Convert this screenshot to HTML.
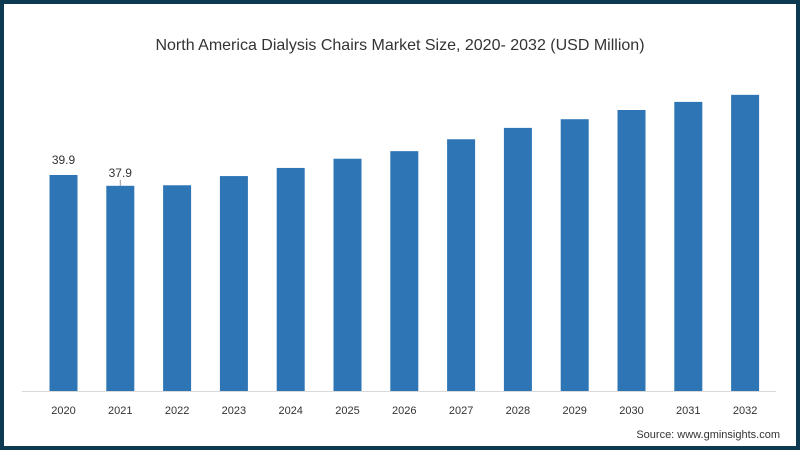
<!DOCTYPE html>
<html><head><meta charset="utf-8"><style>
html,body{margin:0;padding:0;background:#fff}
#wrap{position:relative;width:800px;height:450px;box-sizing:border-box;border:4px solid #0d3a50;background:#fff;overflow:hidden}
svg{position:absolute;left:-4px;top:-4px}
text{font-family:"Liberation Sans",sans-serif}
</style></head><body>
<div id="wrap">
<svg id="chart" width="800" height="450">
<text x="400" y="50" text-anchor="middle" font-size="16" fill="#333">North America Dialysis Chairs Market Size, 2020- 2032 (USD Million)</text>
<line x1="22" y1="391.5" x2="776" y2="391.5" stroke="#d9d9d9" stroke-width="1"/>
<text x="780" y="438" text-anchor="end" font-size="11" fill="#333">Source: www.gminsights.com</text>
</svg>
</div>
<script>
const categories=["2020","2021","2022","2023","2024","2025","2026","2027","2028","2029","2030","2031","2032"];
const values=[39.9,37.9,38.0,39.7,41.2,42.9,44.3,46.5,48.6,50.2,51.9,53.4,54.7];
const labels=["39.9","37.9","","","","","","","","","","",""];
const svg=document.getElementById('chart');
const NS="http://www.w3.org/2000/svg";
const baseY=391, pxPer=5.414, x0=63.5, step=56.8, bw=28;
const xs=i=>x0+i*step;
const ys=v=>baseY-v*pxPer;
categories.forEach((c,i)=>{
  const r=document.createElementNS(NS,'rect');
  r.setAttribute('x',xs(i)-bw/2);r.setAttribute('y',ys(values[i]));
  r.setAttribute('width',bw);r.setAttribute('height',baseY-ys(values[i]));
  r.setAttribute('fill','#2e75b6');
  
  
  svg.appendChild(r);
  const t=document.createElementNS(NS,'text');
  t.setAttribute('x',xs(i));t.setAttribute('y',414);t.setAttribute('text-anchor','middle');
  t.setAttribute('font-size','11');t.setAttribute('fill','#333');t.textContent=c;
  
  
  svg.appendChild(t);
  if(labels[i]){
    const l=document.createElementNS(NS,'text');
    l.setAttribute('x',xs(i));l.setAttribute('y',ys(values[i])-(i==1?9:11));l.setAttribute('text-anchor','middle');
    l.setAttribute('font-size','12');l.setAttribute('fill','#333');l.textContent=labels[i];
    
    
    svg.appendChild(l);
    if(i==1){
      const ln=document.createElementNS(NS,'line');
      ln.setAttribute('x1',xs(i));ln.setAttribute('x2',xs(i));
      ln.setAttribute('y1',ys(values[i])-6);ln.setAttribute('y2',ys(values[i]));
      ln.setAttribute('stroke','#999');
      
      
      svg.appendChild(ln);
    }
  }
});
</script>
</body></html>
